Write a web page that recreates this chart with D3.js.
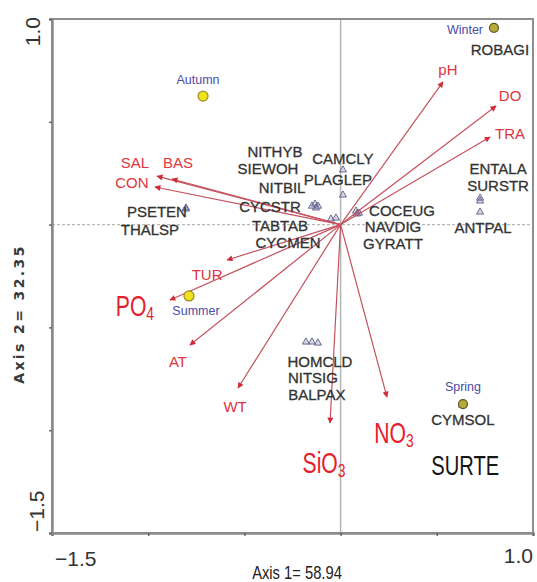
<!DOCTYPE html>
<html>
<head>
<meta charset="utf-8">
<script src="https://cdn.jsdelivr.net/npm/d3@7"></script>
<style>
  body { margin: 0; background: #fff; }
  svg { display: block; }
</style>
</head>
<body>
<svg id="chart" width="537" height="582"></svg>
<script>
// ---- CCA ordination scores (axis 1, axis 2) ----
const envVars  = ["pH", "DO", "TRA", "SAL", "BAS", "CON", "TUR", "PO4", "AT", "WT", "SiO3", "NO3"];
const envAxis1 = [0.532, 0.808, 0.777, -0.954, -0.876, -0.965, -0.590, -0.887, -0.783, -0.533, -0.055, 0.241];
const envAxis2 = [0.694, 0.577, 0.426, 0.236, 0.222, 0.183, -0.172, -0.367, -0.586, -0.795, -0.965, -0.839];

const seasons     = ["Autumn", "Winter", "Summer", "Spring"];
const seasonAxis1 = [-0.715, 0.797, -0.788, 0.636];
const seasonAxis2 = [0.625, 0.957, -0.347, -0.873];

const species = ["NITHYB", "SIEWOH", "NITBIL", "CYCSTR", "TABTAB", "CYCMEN", "CAMCLY", "PLAGLEP",
                 "COCEUG", "NAVDIG", "GYRATT", "ENTALA", "SURSTR", "ANTPAL", "PSETEN", "THALSP",
                 "HOMCLD", "NITSIG", "BALPAX", "ROBAGI", "CYMSOL", "SURTE"];
const speciesAxis1 = [-0.149, -0.133, -0.117, -0.128, -0.050, -0.024, 0.012, 0.012,
                      0.080, 0.096, 0.085, 0.725, 0.725, 0.725, -0.804, -0.804,
                      -0.180, -0.149, -0.118, 0.797, 0.636, 0.632];
const speciesAxis2 = [0.090, 0.100, 0.090, 0.081, 0.027, 0.032, 0.266, 0.144,
                      0.066, 0.056, 0.052, 0.129, 0.115, 0.061, 0.081, 0.076,
                      -0.571, -0.571, -0.576, 0.957, -0.873, -0.878];

const axisTicks  = [-1.5, -1.0, -0.5, 0, 0.5, 1.0];
const axis1Title = "Axis 1= 58.94";
const axis2Title = "Axis 2= 32.35";

// ---- label placement (pixel nudges from each mark) ----
const envNudge = {
  pH: [5, -12], DO: [14, -10], TRA: [20, -3], SAL: [-22, -13], BAS: [6, -16], CON: [-23, -4],
  TUR: [-20, 15], PO4: [-35, 6], AT: [-12, 17], WT: [-3, 19], SiO3: [-6, 40], NO3: [7, 36]
};
const seasonNudge = { Autumn: [-5, -16], Winter: [-29, 2], Summer: [7, 15], Spring: [0, -17] };
const speciesNudge = {
  NITHYB: [-37, -54], SIEWOH: [-47, -35], NITBIL: [-36, -18], CYCSTR: [-46, -1],
  TABTAB: [-51, 7], CYCMEN: [-48, 25], CAMCLY: [0, -11], PLAGLEP: [-5, -15],
  COCEUG: [46, 0], NAVDIG: [34, 14], GYRATT: [36, 30], ENTALA: [18, -29], SURSTR: [18, -15],
  ANTPAL: [3, 16], PSETEN: [-29, 4], THALSP: [-36, 21], HOMCLD: [14, 20], NITSIG: [1, 36],
  BALPAX: [-1, 52], ROBAGI: [6, 22], CYMSOL: [0, 16], SURTE: [3, 60]
};
const chemLabels = { PO4: ["PO", "4"], SiO3: ["SiO", "3"], NO3: ["NO", "3"] };
const bigSpecies = new Set(["SURTE"]);

// ---- frame ----
const W = 537, H = 582;
const plot = { left: 52, right: 533, top: 19, bottom: 533 };
const svg = d3.select("#chart");

const x = d3.scaleLinear().domain([-1.5, 1.0]).range([plot.left, plot.right]);
const y = d3.scaleLinear().domain([-1.5, 1.0]).range([plot.bottom, plot.top]);

svg.append("rect").attr("width", W).attr("height", H).attr("fill", "#fff");

// zero reference lines
svg.append("line")
  .attr("x1", x(0)).attr("x2", x(0)).attr("y1", plot.top).attr("y2", plot.bottom)
  .attr("stroke", "#b4b4b4").attr("stroke-width", 1.5);
svg.append("line")
  .attr("x1", plot.left).attr("x2", plot.right).attr("y1", y(0)).attr("y2", y(0))
  .attr("stroke", "#b8b8b8").attr("stroke-width", 1.3).attr("stroke-dasharray", "3,2");

// box
svg.append("rect")
  .attr("x", plot.left).attr("y", plot.top)
  .attr("width", plot.right - plot.left).attr("height", plot.bottom - plot.top)
  .attr("fill", "none").attr("stroke", "#8e8e8e").attr("stroke-width", 2);

const gx = svg.append("g").attr("transform", `translate(0,${plot.bottom})`)
  .call(d3.axisBottom(x).tickValues(axisTicks).tickSize(3).tickFormat(""));
const gy = svg.append("g").attr("transform", `translate(${plot.left},0)`)
  .call(d3.axisLeft(y).tickValues(axisTicks).tickSize(3).tickFormat(""));
[gx, gy].forEach(g => {
  g.select(".domain").attr("stroke", "#8a8a8a").attr("stroke-width", 2.5);
  g.selectAll(".tick line").attr("stroke", "#666").attr("stroke-width", 1.5);
});

// end tick labels
const tickFont = "'Liberation Sans', Arial, sans-serif";
svg.append("text").attr("x", x(-1.5) + 3).attr("y", 566)
  .attr("font-family", tickFont).attr("font-size", 21).attr("fill", "#333")
  .text(d3.format(".1f")(axisTicks[0]));
svg.append("text").attr("x", x(1.0)).attr("y", 563).attr("text-anchor", "end")
  .attr("font-family", tickFont).attr("font-size", 21).attr("fill", "#333")
  .text(d3.format(".1f")(axisTicks[axisTicks.length - 1]));
svg.append("text").attr("transform", `translate(40,${y(1.0) - 2}) rotate(-90)`)
  .attr("text-anchor", "end")
  .attr("font-family", tickFont).attr("font-size", 21).attr("fill", "#333")
  .text(d3.format(".1f")(axisTicks[axisTicks.length - 1]));
svg.append("text").attr("transform", `translate(44,${y(-1.5) - 1}) rotate(-90)`)
  .attr("text-anchor", "start")
  .attr("font-family", tickFont).attr("font-size", 21).attr("fill", "#333")
  .text(d3.format(".1f")(axisTicks[0]));

// axis titles
svg.append("text")
  .attr("transform", `translate(297,579) scale(0.82,1)`)
  .attr("text-anchor", "middle")
  .attr("font-family", "'Liberation Sans Narrow', 'Liberation Sans', Arial, sans-serif")
  .attr("font-size", 18).attr("fill", "#222")
  .text(axis1Title);
svg.append("text")
  .attr("transform", `translate(24,314) rotate(-90)`)
  .attr("text-anchor", "middle")
  .attr("font-family", "'DejaVu Sans', sans-serif").attr("font-weight", "bold")
  .attr("font-size", 14).attr("letter-spacing", 2.4).attr("fill", "#3a3a3a")
  .text(axis2Title);

// ---- species markers (open triangles) ----
const spec = species.map((s, i) => ({ name: s, a1: speciesAxis1[i], a2: speciesAxis2[i] }));
svg.append("g").selectAll("path").data(spec).join("path")
  .attr("transform", d => `translate(${x(d.a1)},${y(d.a2)})`)
  .attr("d", d3.symbol(d3.symbolTriangle, 22))
  .attr("fill", "#7474a0").attr("fill-opacity", 0.28)
  .attr("stroke", "#6a6a92").attr("stroke-width", 1);

// ---- environmental arrows ----
const defs = svg.append("defs");
defs.append("marker").attr("id", "head")
  .attr("viewBox", "0 0 10 10").attr("refX", 9).attr("refY", 5)
  .attr("markerWidth", 7).attr("markerHeight", 6).attr("markerUnits", "userSpaceOnUse")
  .attr("orient", "auto")
  .append("path").attr("d", "M0,0 L10,5 L0,10 Z").attr("fill", "#d42a36");

const env = envVars.map((v, i) => ({ name: v, a1: envAxis1[i], a2: envAxis2[i] }));
svg.append("g").selectAll("line").data(env).join("line")
  .attr("x1", x(0)).attr("y1", y(0))
  .attr("x2", d => x(d.a1)).attr("y2", d => y(d.a2))
  .attr("stroke", "#c5525e").attr("stroke-width", 1.2)
  .attr("marker-end", "url(#head)");

// ---- season sites ----
const site = seasons.map((s, i) => ({ name: s, a1: seasonAxis1[i], a2: seasonAxis2[i] }));
svg.append("g").selectAll("circle").data(site).join("circle")
  .attr("cx", d => x(d.a1)).attr("cy", d => y(d.a2))
  .attr("r", d => (d.name === "Autumn" || d.name === "Summer") ? 5 : 4.5)
  .attr("fill", d => (d.name === "Autumn" || d.name === "Summer") ? "#f0e21c" : "#b9a93a")
  .attr("stroke", d => (d.name === "Autumn" || d.name === "Summer") ? "#9a8a24" : "#5e5620")
  .attr("stroke-width", 1.2);

svg.append("g").selectAll("text").data(site).join("text")
  .attr("x", d => x(d.a1) + seasonNudge[d.name][0])
  .attr("y", d => y(d.a2) + seasonNudge[d.name][1])
  .attr("dy", "0.35em").attr("text-anchor", "middle")
  .attr("font-family", "'Liberation Sans', Arial, sans-serif").attr("font-size", 12.5)
  .attr("fill", "#4c4ca6")
  .text(d => d.name);

// ---- species labels ----
const labFont = "'Liberation Sans', Arial, sans-serif";
const bigFont = "'Liberation Sans Narrow', 'Liberation Sans', Arial, sans-serif";
svg.append("g").selectAll("text").data(spec.filter(d => !bigSpecies.has(d.name))).join("text")
  .attr("x", d => x(d.a1) + speciesNudge[d.name][0])
  .attr("y", d => y(d.a2) + speciesNudge[d.name][1])
  .attr("dy", "0.35em").attr("text-anchor", "middle")
  .attr("font-family", labFont).attr("font-size", 15).attr("fill", "#333")
  .attr("stroke", "#333").attr("stroke-width", 0.3)
  .text(d => d.name);

svg.append("g").selectAll("text").data(spec.filter(d => bigSpecies.has(d.name))).join("text")
  .attr("transform", d => `translate(${x(d.a1) + speciesNudge[d.name][0]},${y(d.a2) + speciesNudge[d.name][1]}) scale(0.72,1)`)
  .attr("dy", "0.35em").attr("text-anchor", "middle")
  .attr("font-family", bigFont).attr("font-size", 28).attr("fill", "#161616")
  .text(d => d.name);

// ---- environmental labels ----
env.forEach(d => {
  const px = x(d.a1) + envNudge[d.name][0];
  const py = y(d.a2) + envNudge[d.name][1];
  if (chemLabels[d.name]) {
    const [base, sub] = chemLabels[d.name];
    const t = svg.append("text")
      .attr("transform", `translate(${px},${py}) scale(0.73,1)`)
      .attr("dy", "0.35em").attr("text-anchor", "middle")
      .attr("font-family", bigFont).attr("font-size", 29).attr("fill", "#e4202c");
    t.append("tspan").text(base);
    t.append("tspan").attr("font-size", 19).attr("dy", 4).text(sub);
  } else {
    svg.append("text")
      .attr("x", px).attr("y", py).attr("dy", "0.35em").attr("text-anchor", "middle")
      .attr("font-family", labFont).attr("font-size", 15).attr("fill", "#e0343e")
      .text(d.name);
  }
});
</script>
</body>
</html>
